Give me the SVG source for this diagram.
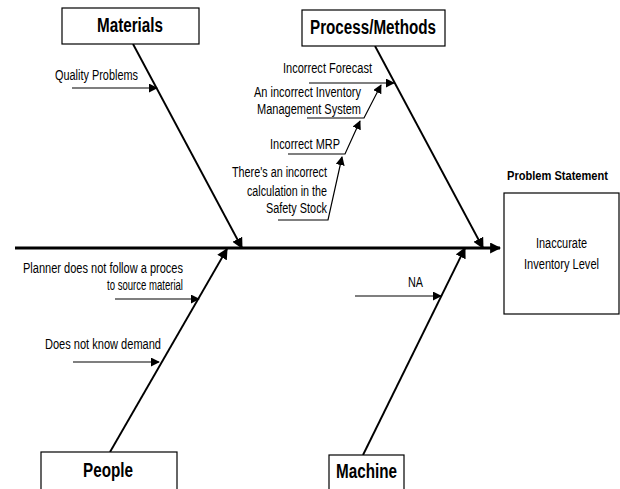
<svg xmlns="http://www.w3.org/2000/svg" width="620" height="489" viewBox="0 0 620 489">
<style>
.box{fill:#fff;stroke:#000;stroke-width:1.2}
.hd{font-family:"Liberation Sans",Arial,sans-serif;font-weight:bold;font-size:20px;fill:#000;text-anchor:middle}
.lb{font-family:"Liberation Sans",Arial,sans-serif;font-size:14px;fill:#000}
.bone{stroke:#000;stroke-width:1.9;fill:none}
.sub{stroke:#000;stroke-width:1.2;fill:none}
</style>
<defs>
<marker id="ah" viewBox="0 0 10 10" refX="9" refY="5" markerWidth="9" markerHeight="9" markerUnits="userSpaceOnUse" orient="auto"><path d="M0,0 L10,5 L0,10 z" fill="#000"/></marker>
<marker id="ahb" viewBox="0 0 10 10" refX="9" refY="5" markerWidth="11" markerHeight="11" markerUnits="userSpaceOnUse" orient="auto"><path d="M0,0 L10,5 L0,10 z" fill="#000"/></marker>
</defs>
<g id="connectors">
<line x1="15" y1="248" x2="500" y2="248" stroke="#000" stroke-width="3" marker-end="url(#ahb)"/>
<line class="bone" x1="133" y1="44" x2="242" y2="248" marker-end="url(#ahb)"/>
<line class="bone" x1="375" y1="46" x2="483" y2="248" marker-end="url(#ahb)"/>
<line class="bone" x1="110" y1="452" x2="227" y2="249" marker-end="url(#ahb)"/>
<line class="bone" x1="363" y1="455" x2="465" y2="248" marker-end="url(#ahb)"/>
<line class="sub" x1="72" y1="88" x2="157" y2="88" marker-end="url(#ah)"/>
<line class="sub" x1="309" y1="83" x2="394" y2="83" marker-end="url(#ah)"/>
<polyline class="sub" points="307,118 364,118 381,85" marker-end="url(#ah)"/>
<polyline class="sub" points="288,154 345,154 360,121" marker-end="url(#ah)"/>
<polyline class="sub" points="278,220 328,220 342,157" marker-end="url(#ah)"/>
<line class="sub" x1="115" y1="299" x2="199" y2="299" marker-end="url(#ah)"/>
<line class="sub" x1="73" y1="362" x2="159" y2="362" marker-end="url(#ah)"/>
<line class="sub" x1="355" y1="296" x2="441" y2="296" marker-end="url(#ah)"/>
</g>
<g id="materials">
<rect class="box" x="62" y="8" width="137" height="36"/>
<text class="hd" x="130" y="32" textLength="66" lengthAdjust="spacingAndGlyphs">Materials</text>
</g>
<g id="process">
<rect class="box" x="302" y="10" width="143" height="36"/>
<text class="hd" x="373" y="34" textLength="126" lengthAdjust="spacingAndGlyphs">Process/Methods</text>
</g>
<g id="people">
<rect class="box" x="41" y="452" width="136" height="40"/>
<text class="hd" x="108" y="477" textLength="50" lengthAdjust="spacingAndGlyphs">People</text>
</g>
<g id="machine">
<rect class="box" x="329" y="455" width="75" height="40"/>
<text class="hd" x="366.5" y="478" textLength="61" lengthAdjust="spacingAndGlyphs">Machine</text>
</g>
<g id="problem">
<text class="hd" x="557.5" y="180" style="font-size:13px" textLength="101" lengthAdjust="spacingAndGlyphs">Problem Statement</text>
<rect class="box" x="504" y="193" width="115" height="121"/>
<text class="lb" x="561.5" y="248" text-anchor="middle" textLength="51" lengthAdjust="spacingAndGlyphs">Inaccurate</text>
<text class="lb" x="561.5" y="269" text-anchor="middle" textLength="75" lengthAdjust="spacingAndGlyphs">Inventory Level</text>
</g>
<g id="labels">
<text class="lb" x="55" y="79.5" textLength="83" lengthAdjust="spacingAndGlyphs">Quality Problems</text>
<text class="lb" x="283" y="73" textLength="89" lengthAdjust="spacingAndGlyphs">Incorrect Forecast</text>
<text class="lb" x="254" y="97" textLength="107" lengthAdjust="spacingAndGlyphs">An incorrect Inventory</text>
<text class="lb" x="257" y="114" textLength="104" lengthAdjust="spacingAndGlyphs">Management System</text>
<text class="lb" x="270" y="149" textLength="70" lengthAdjust="spacingAndGlyphs">Incorrect MRP</text>
<text class="lb" x="232" y="177" textLength="95" lengthAdjust="spacingAndGlyphs">There's an incorrect</text>
<text class="lb" x="247" y="196" textLength="80" lengthAdjust="spacingAndGlyphs">calculation in the</text>
<text class="lb" x="266" y="213" textLength="61" lengthAdjust="spacingAndGlyphs">Safety Stock</text>
<text class="lb" x="23" y="273" textLength="160" lengthAdjust="spacingAndGlyphs">Planner does not follow a proces</text>
<text class="lb" x="107" y="290" textLength="76" lengthAdjust="spacingAndGlyphs">to source material</text>
<text class="lb" x="45" y="349" textLength="116" lengthAdjust="spacingAndGlyphs">Does not know demand</text>
<text class="lb" x="408" y="287" textLength="15" lengthAdjust="spacingAndGlyphs">NA</text>
</g>
</svg>
